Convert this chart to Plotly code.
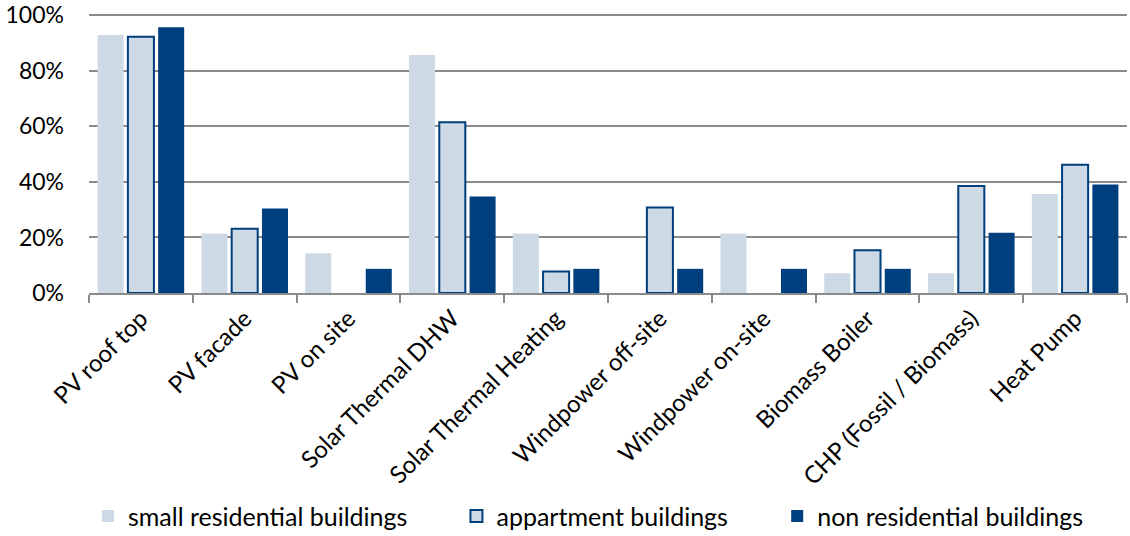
import plotly.graph_objects as go

categories = ["PV roof top", "PV facade", "PV on site", "Solar Thermal DHW", "Solar Thermal Heating",
              "Windpower off-site", "Windpower on-site", "Biomass Boiler", "CHP (Fossil / Biomass)", "Heat Pump"]
small_residential = [92.9, 21.4, 14.3, 85.7, 21.4, None, 21.4, 7.1, 7.1, 35.7]
appartment = [92.3, 23.1, None, 61.5, 7.7, 30.8, None, 15.4, 38.5, 46.2]
non_residential = [95.7, 30.4, 8.7, 34.8, 8.7, 8.7, 8.7, 8.7, 21.7, 39.1]
y_ticks = [0, 20, 40, 60, 80, 100]
y_ticklabels = ["0%", "20%", "40%", "60%", "80%", "100%"]

LIGHT = "#CDD9E5"
DARK = "#003F7D"
GRID = "#8A8A8A"
FONT = "Lato"

fig = go.Figure()
fig.add_bar(x=categories, y=small_residential, name="small residential buildings", legend="legend",
            marker=dict(color=LIGHT, line=dict(width=0)))
fig.add_bar(x=categories, y=appartment, name="appartment buildings", legend="legend2",
            marker=dict(color=LIGHT, line=dict(color=DARK, width=2)))
fig.add_bar(x=categories, y=non_residential, name="non residential buildings", legend="legend3",
            marker=dict(color=DARK, line=dict(width=0)))

leg_common = dict(orientation="h", xanchor="left", y=-0.80, yanchor="middle",
                  font=dict(size=25, color="#000000"), bgcolor="rgba(0,0,0,0)")
fig.update_layout(
    width=1130, height=536,
    margin=dict(l=89, r=3, t=14, b=243, autoexpand=False),
    paper_bgcolor="white", plot_bgcolor="white",
    barmode="group", bargap=0.125, bargroupgap=0.14,
    font=dict(family=FONT, size=24, color="#000000"),
    legend=dict(x=-0.001, **leg_common),
    legend2=dict(x=0.354, **leg_common),
    legend3=dict(x=0.663, **leg_common),
    showlegend=True,
)
fig.update_xaxes(tickangle=-45, showline=True, linecolor=GRID, linewidth=2, automargin=False,
                 ticks="outside", tickson="boundaries", ticklen=8, tickcolor=GRID, tickwidth=2,
                 showgrid=False, tickfont=dict(size=24, color="#000000"))
fig.update_yaxes(range=[0, 100.5], tickvals=y_ticks, ticktext=y_ticklabels, showgrid=True,
                 gridcolor=GRID, gridwidth=2, zeroline=False, showline=False, automargin=False,
                 ticks="", ticklabelstandoff=24, ticklabeloverflow="allow",
                 tickfont=dict(size=23, color="#000000"))

fig.write_html("out.html", config={"displayModeBar": False},
               post_script="document.body.style.margin='0';document.body.style.overflow='hidden';")
